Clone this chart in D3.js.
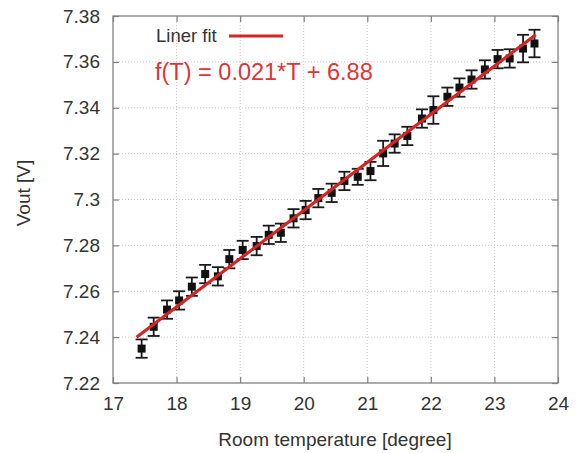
<!DOCTYPE html>
<html lang="en">
<head>
<meta charset="utf-8">
<title>Vout vs room temperature</title>
<script src="https://d3js.org/d3.v7.min.js"></script>
<style>
  body { margin: 0; background: #fff; }
  text { font-family: "Liberation Sans", Arial, sans-serif; }
</style>
</head>
<body>
<div id="chart"></div>
<script>
// measured points (room temperature, Vout) and error half-widths
const temps = [17.45, 17.64, 17.85, 18.04, 18.24, 18.45, 18.65, 18.83, 19.04, 19.26, 19.45,
               19.64, 19.84, 20.03, 20.23, 20.44, 20.64, 20.85, 21.05, 21.25, 21.43, 21.63,
               21.86, 22.04, 22.26, 22.45, 22.64, 22.85, 23.05, 23.24, 23.45, 23.63];
const vout = [7.235, 7.2445, 7.252, 7.256, 7.262, 7.2675, 7.2665, 7.274, 7.278, 7.2797, 7.2846,
              7.2855, 7.2918, 7.2954, 7.3006, 7.3029, 7.3081, 7.3099, 7.3124, 7.3201, 7.3244, 7.3277,
              7.3353, 7.339, 7.3448, 7.3488, 7.3523, 7.3567, 7.3612, 7.3615, 7.3658, 7.368];
const errs = [0.004, 0.004, 0.004, 0.004, 0.004, 0.004, 0.004, 0.004, 0.004, 0.004, 0.004,
              0.004, 0.004, 0.004, 0.004, 0.004, 0.004, 0.0035, 0.004, 0.0055, 0.004, 0.004,
              0.004, 0.006, 0.004, 0.004, 0.004, 0.004, 0.004, 0.004, 0.006, 0.006];

// linear fit shown in the legend (label is rounded)
const fitSlope = 0.021;
const fitIntercept = 6.8752;
const fitRange = [17.37, 23.65];
const fitLabel = "f(T) = 0.021*T + 6.88";

const xTicks = [17, 18, 19, 20, 21, 22, 23, 24];
const yTicks = [7.22, 7.24, 7.26, 7.28, 7.3, 7.32, 7.34, 7.36, 7.38];

const W = 578, H = 453;
const margin = {top: 16, right: 20, bottom: 70, left: 113};
const iw = W - margin.left - margin.right;
const ih = H - margin.top - margin.bottom;

const svg = d3.select("#chart").append("svg")
    .attr("width", W).attr("height", H)
    .style("background", "#fff");

const g = svg.append("g").attr("transform", "translate(" + margin.left + "," + margin.top + ")");

const x = d3.scaleLinear().domain([17, 24]).range([0, iw]);
const y = d3.scaleLinear().domain([7.22, 7.38]).range([ih, 0]);

// dotted grid
g.selectAll(".gx").data(xTicks.slice(1, -1)).enter().append("line")
    .attr("x1", d => x(d)).attr("x2", d => x(d))
    .attr("y1", 0).attr("y2", ih)
    .attr("stroke", "#c8c8c8").attr("stroke-dasharray", "1,2");
g.selectAll(".gy").data(yTicks.slice(1, -1)).enter().append("line")
    .attr("x1", 0).attr("x2", iw)
    .attr("y1", d => y(d)).attr("y2", d => y(d))
    .attr("stroke", "#c8c8c8").attr("stroke-dasharray", "1,2");

// axes: gnuplot style inward ticks on all sides
const axisColor = "#808080";
function styleAxis(sel) {
    sel.select(".domain").remove();
    sel.selectAll(".tick line").attr("stroke", axisColor).attr("stroke-width", 1.2);
    sel.selectAll(".tick text").attr("fill", "#333").style("font-size", "19px")
        .style("font-family", "'Liberation Sans', Arial, sans-serif");
}
g.append("g").attr("transform", "translate(0," + ih + ")")
    .call(d3.axisBottom(x).tickValues(xTicks).tickFormat(d3.format("d")).tickSizeInner(-6).tickPadding(14))
    .call(styleAxis);
g.append("g")
    .call(d3.axisTop(x).tickValues(xTicks).tickSizeInner(-6).tickFormat(""))
    .call(styleAxis);
g.append("g")
    .call(d3.axisLeft(y).tickValues(yTicks).tickFormat(d => String(+d.toFixed(2))).tickSizeInner(-6).tickPadding(13))
    .call(styleAxis);
g.append("g").attr("transform", "translate(" + iw + ",0)")
    .call(d3.axisRight(y).tickValues(yTicks).tickSizeInner(-6).tickFormat(""))
    .call(styleAxis);

g.append("rect").attr("width", iw).attr("height", ih)
    .attr("fill", "none").attr("stroke", axisColor).attr("stroke-width", 1.3);

// axis titles
svg.append("text").attr("x", 335).attr("y", 446)
    .attr("text-anchor", "middle").attr("fill", "#333").style("font-size", "19px")
    .text("Room temperature [degree]");
svg.append("text").attr("transform", "translate(30,193) rotate(-90)")
    .attr("text-anchor", "middle").attr("fill", "#333").style("font-size", "19px")
    .text("Vout [V]");

const pts = temps.map((t, i) => ({t: t, v: vout[i], e: errs[i]}));

// error bars
const eb = g.selectAll(".eb").data(pts).enter().append("g").attr("stroke", "#1a1a1a").attr("stroke-width", 1.8);
eb.append("line").attr("x1", d => x(d.t)).attr("x2", d => x(d.t))
    .attr("y1", d => y(d.v - d.e)).attr("y2", d => y(d.v + d.e));
eb.append("line").attr("x1", d => x(d.t) - 6).attr("x2", d => x(d.t) + 6)
    .attr("y1", d => y(d.v - d.e)).attr("y2", d => y(d.v - d.e));
eb.append("line").attr("x1", d => x(d.t) - 6).attr("x2", d => x(d.t) + 6)
    .attr("y1", d => y(d.v + d.e)).attr("y2", d => y(d.v + d.e));

// markers
g.selectAll(".pt").data(pts).enter().append("rect")
    .attr("x", d => x(d.t) - 4).attr("y", d => y(d.v) - 4)
    .attr("width", 8).attr("height", 8).attr("fill", "#111");

// fit line
g.append("line")
    .attr("x1", x(fitRange[0])).attr("y1", y(fitSlope * fitRange[0] + fitIntercept))
    .attr("x2", x(fitRange[1])).attr("y2", y(fitSlope * fitRange[1] + fitIntercept))
    .attr("stroke", "#d42424").attr("stroke-width", 3.2);

// legend
svg.append("text").attr("x", 156).attr("y", 42).attr("fill", "#333")
    .style("font-size", "18.5px").text("Liner fit");
svg.append("line").attr("x1", 229).attr("x2", 283).attr("y1", 36).attr("y2", 36)
    .attr("stroke", "#d42424").attr("stroke-width", 3.2);
svg.append("text").attr("x", 155).attr("y", 80).attr("fill", "#e03535")
    .style("font-size", "23.5px").text(fitLabel);
</script>
</body>
</html>
